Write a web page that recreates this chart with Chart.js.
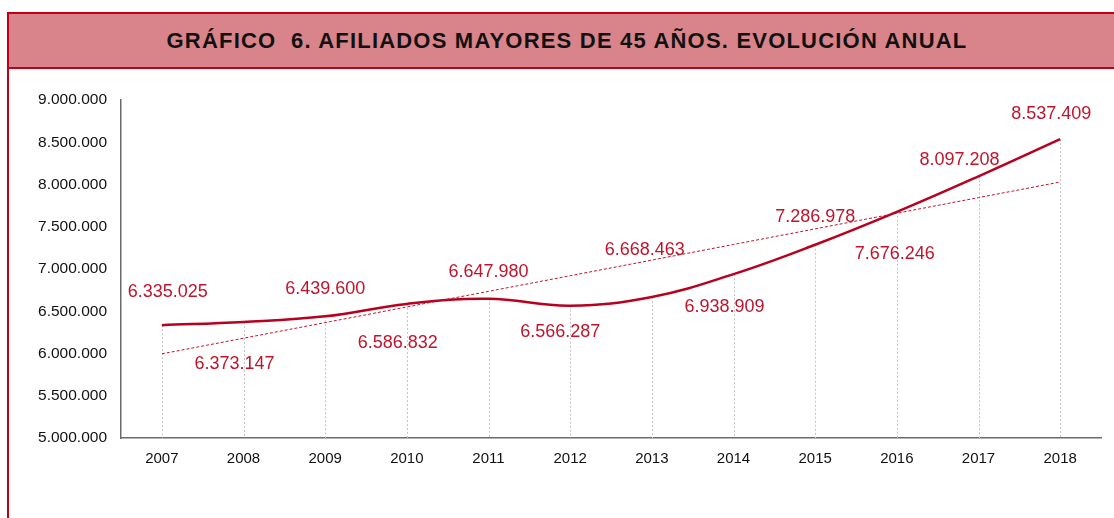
<!DOCTYPE html>
<html>
<head>
<meta charset="utf-8">
<script src="https://cdn.jsdelivr.net/npm/chart.js@4.4.0/dist/chart.umd.min.js"></script>
<style>
    body { margin: 0; background: #fff; width: 1114px; height: 518px; overflow: hidden; position: relative; font-family: "Liberation Sans", Arial, sans-serif; }
    #frame { position: absolute; left: 7px; top: 12px; width: 1120px; height: 520px; border-left: 2px solid #c00018; border-top: 2px solid #c00018; }
    #title { height: 53px; background: #d9848a; border-bottom: 2px solid #c00018; text-align: center; line-height: 53px; font-weight: bold; font-size: 22px; letter-spacing: 1.2px; color: #111; padding-right: 4px; }
    #wrap { position: absolute; left: 0; top: 70px; width: 1114px; height: 448px; }
</style>
</head>
<body>
<div id="frame"><div id="title">GRÁFICO&nbsp; 6. AFILIADOS MAYORES DE 45 AÑOS. EVOLUCIÓN ANUAL</div></div>
<div id="wrap"><canvas id="chart"></canvas></div>
<script>
const years = ['2007', '2008', '2009', '2010', '2011', '2012', '2013', '2014', '2015', '2016', '2017', '2018'];
const afiliados = [6335025, 6373147, 6439600, 6586832, 6647980, 6566287, 6668463, 6938909, 7286978, 7676246, 8097208, 8537409];
const yMin = 5000000;
const yMax = 9000000;
const yStep = 500000;

// tendencia lineal (mínimos cuadrados) calculada a partir de los datos
function linearTrend(values) {
    const n = values.length;
    const mx = (n - 1) / 2;
    const my = values.reduce((a, b) => a + b, 0) / n;
    let sxy = 0, sxx = 0;
    values.forEach((v, i) => { sxy += (i - mx) * (v - my); sxx += (i - mx) * (i - mx); });
    const slope = sxy / sxx;
    return values.map((v, i) => my + slope * (i - mx));
}
const tendencia = linearTrend(afiliados);

// desplazamiento de cada etiqueta respecto a su punto
const labelOffsets = [[6, -33], [-9, 42], [0, -27], [-9, 39], [0, -27], [-10, 26], [-7, -47], [-9, 33], [0, -28], [-2, 42], [-19, -16], [-9, -25]];

const fmt = v => Math.round(v).toString().replace(/\B(?=(\d{3})+(?!\d))/g, '.');

const dropLines = {
    id: 'dropLines',
    beforeDatasetsDraw(chart) {
        const ctx = chart.ctx;
        const meta = chart.getDatasetMeta(1);
        const bottom = chart.chartArea.bottom;
        ctx.save();
        ctx.strokeStyle = '#c4c4c4';
        ctx.lineWidth = 1;
        ctx.setLineDash([2, 2]);
        meta.data.forEach(p => {
            const x = Math.round(p.x) + 0.5;
            ctx.beginPath();
            ctx.moveTo(x, p.y);
            ctx.lineTo(x, bottom);
            ctx.stroke();
        });
        ctx.restore();
    }
};

const valueLabels = {
    id: 'valueLabels',
    afterDatasetsDraw(chart) {
        const ctx = chart.ctx;
        const meta = chart.getDatasetMeta(1);
        ctx.save();
        ctx.font = '18px "Liberation Sans", Arial, sans-serif';
        ctx.fillStyle = '#c0142c';
        ctx.textAlign = 'center';
        ctx.textBaseline = 'middle';
        meta.data.forEach((p, i) => {
            const off = labelOffsets[i];
            ctx.fillText(fmt(afiliados[i]), p.x + off[0], p.y + off[1]);
        });
        ctx.restore();
    }
};

new Chart(document.getElementById('chart'), {
    type: 'line',
    data: {
        labels: years,
        datasets: [{
            label: 'Tendencia',
            data: tendencia,
            borderColor: '#c0142c',
            borderWidth: 1,
            borderDash: [3, 2],
            pointRadius: 0,
            tension: 0,
            fill: false
        }, {
            label: 'Afiliados',
            data: afiliados,
            borderColor: '#b8001f',
            borderWidth: 2.5,
            pointRadius: 0,
            tension: 0.4,
            fill: false
        }]
    },
    options: {
        responsive: true,
        maintainAspectRatio: false,
        animation: false,
        layout: { padding: { top: 30, right: 13, left: 0, bottom: 0 } },
        plugins: { legend: { display: false }, tooltip: { enabled: false } },
        scales: {
            x: {
                offset: true,
                grid: { display: false, drawTicks: false },
                border: { display: true, color: '#6b6b6b', width: 1.5 },
                ticks: { color: '#111', font: { size: 15, family: '"Liberation Sans", Arial' }, padding: 12 },
                afterFit: s => { s.height = 80; }
            },
            y: {
                min: yMin,
                max: yMax,
                grid: { display: false, drawTicks: false },
                border: { display: true, color: '#6b6b6b', width: 1.5 },
                ticks: {
                    stepSize: yStep,
                    color: '#111',
                    font: { size: 15.5, family: '"Liberation Sans", Arial' },
                    padding: 14,
                    callback: v => fmt(v)
                },
                afterFit: s => { s.width = 121; }
            }
        }
    },
    plugins: [dropLines, valueLabels]
});
</script>
</body>
</html>
